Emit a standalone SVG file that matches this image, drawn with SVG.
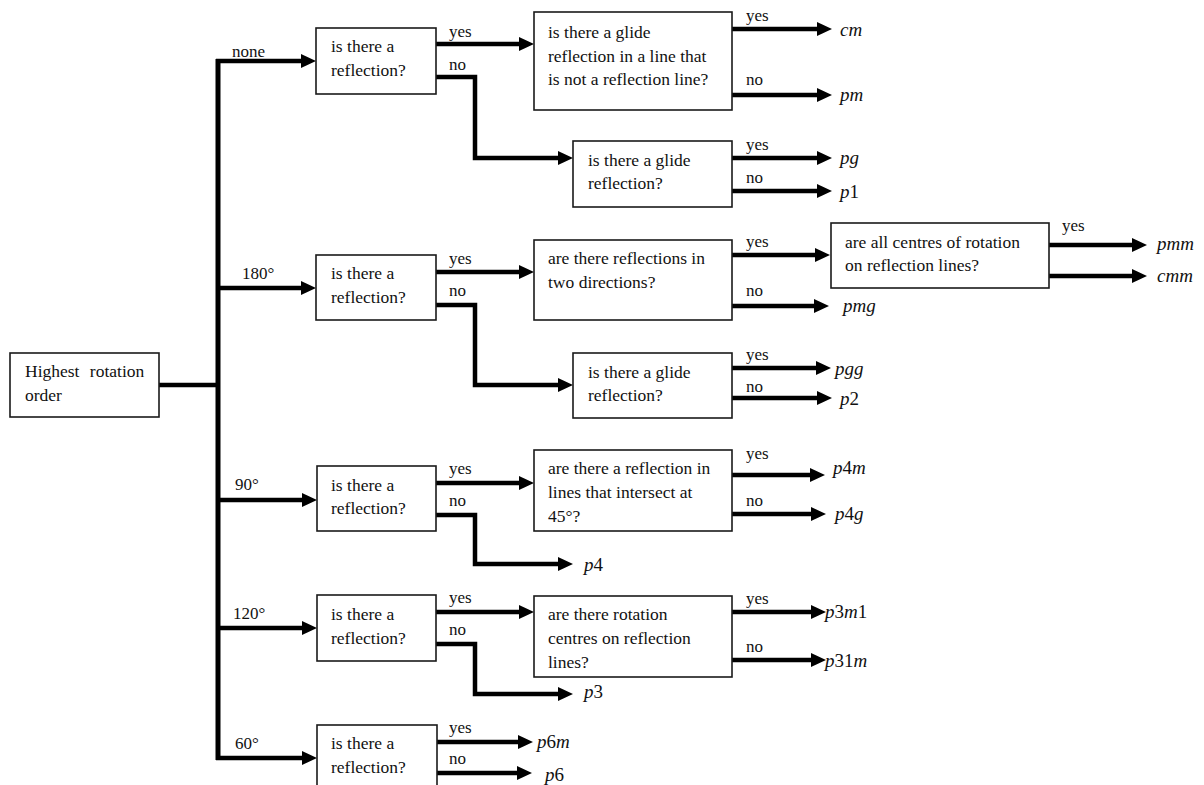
<svg xmlns="http://www.w3.org/2000/svg" width="1204" height="785" viewBox="0 0 1204 785">
<style>
.bx{fill:#fff;stroke:#1a1a1a;stroke-width:1.6}
.t{font-family:"Liberation Serif","Times New Roman",serif;font-size:17.5px;fill:#111}
.l{font-family:"Liberation Serif","Times New Roman",serif;font-size:17px;fill:#111}
.m{font-family:"Liberation Serif","Times New Roman",serif;font-size:19px;font-style:italic;fill:#111}
.m tspan.d{font-style:normal}
.c{fill:none;stroke:#000;stroke-width:4.5;stroke-linejoin:miter}
.a{marker-end:url(#ah)}
</style>
<defs>
<marker id="ah" markerUnits="userSpaceOnUse" markerWidth="16" markerHeight="16" refX="5" refY="7" orient="auto">
<path d="M0,0 L15,7 L0,14 z" fill="#000"/>
</marker>
</defs>
<g id="connectors">
<path class="c" d="M159,385 H218"/>
<path class="c" d="M218,59 V760" style="stroke-width:5"/>
<path class="c a" d="M216,61 H306"/>
<path class="c a" d="M218,288 H306"/>
<path class="c a" d="M218,500 H307"/>
<path class="c a" d="M218,628 H307"/>
<path class="c a" d="M216,758 H307"/>
<path class="c a" d="M436,44 H524"/>
<path class="c a" d="M436,77 H475 V158 H563"/>
<path class="c a" d="M732,29 H822"/>
<path class="c a" d="M732,95 H822"/>
<path class="c a" d="M732,158 H822"/>
<path class="c a" d="M732,191 H822"/>
<path class="c a" d="M436,272 H524"/>
<path class="c a" d="M436,305 H475 V385 H563"/>
<path class="c a" d="M732,255 H820"/>
<path class="c a" d="M732,306 H819"/>
<path class="c a" d="M1049,245 H1137"/>
<path class="c a" d="M1049,276 H1137"/>
<path class="c a" d="M732,368 H821"/>
<path class="c a" d="M732,398 H822"/>
<path class="c a" d="M436,483 H524"/>
<path class="c a" d="M436,515 H475 V564 H563"/>
<path class="c a" d="M732,475 H815"/>
<path class="c a" d="M732,514 H816"/>
<path class="c a" d="M436,612 H524"/>
<path class="c a" d="M436,644 H475 V694 H563"/>
<path class="c a" d="M732,612 H816"/>
<path class="c a" d="M732,660 H816"/>
<path class="c a" d="M437,742 H523"/>
<path class="c a" d="M437,773 H522"/>
</g>
<g id="labels">
<text class="l" x="232" y="57">none</text>
<text class="l" x="242" y="279">180°</text>
<text class="l" x="235" y="490">90°</text>
<text class="l" x="233" y="619">120°</text>
<text class="l" x="235" y="749">60°</text>
<text class="l" x="449" y="37">yes</text>
<text class="l" x="449" y="70">no</text>
<text class="l" x="746" y="21">yes</text>
<text class="l" x="746" y="85">no</text>
<text class="l" x="746" y="150">yes</text>
<text class="l" x="746" y="183">no</text>
<text class="l" x="449" y="264">yes</text>
<text class="l" x="449" y="296">no</text>
<text class="l" x="746" y="247">yes</text>
<text class="l" x="746" y="296">no</text>
<text class="l" x="1062" y="231">yes</text>
<text class="l" x="746" y="360">yes</text>
<text class="l" x="746" y="392">no</text>
<text class="l" x="449" y="474">yes</text>
<text class="l" x="449" y="506">no</text>
<text class="l" x="746" y="459">yes</text>
<text class="l" x="746" y="506">no</text>
<text class="l" x="449" y="603">yes</text>
<text class="l" x="449" y="635">no</text>
<text class="l" x="746" y="604">yes</text>
<text class="l" x="746" y="652">no</text>
<text class="l" x="449" y="733">yes</text>
<text class="l" x="449" y="764">no</text>
</g>
<g id="results">
<text class="m" x="840" y="36">cm</text>
<text class="m" x="840" y="101">pm</text>
<text class="m" x="840" y="164">pg</text>
<text class="m" x="840" y="198">p<tspan class="d">1</tspan></text>
<text class="m" x="1157" y="250">pmm</text>
<text class="m" x="1157" y="282">cmm</text>
<text class="m" x="843" y="312">pmg</text>
<text class="m" x="835" y="375">pgg</text>
<text class="m" x="840" y="405">p<tspan class="d">2</tspan></text>
<text class="m" x="833" y="474">p<tspan class="d">4</tspan>m</text>
<text class="m" x="835" y="520">p<tspan class="d">4</tspan>g</text>
<text class="m" x="584" y="571">p<tspan class="d">4</tspan></text>
<text class="m" x="825" y="618">p<tspan class="d">3</tspan>m<tspan class="d">1</tspan></text>
<text class="m" x="825" y="667">p<tspan class="d">31</tspan>m</text>
<text class="m" x="584" y="698">p<tspan class="d">3</tspan></text>
<text class="m" x="537" y="748">p<tspan class="d">6</tspan>m</text>
<text class="m" x="545" y="781">p<tspan class="d">6</tspan></text>
</g>
<g id="root">
<rect class="bx" x="10" y="353" width="149" height="64"/>
<text class="t" x="25" y="377" word-spacing="6">Highest rotation</text>
<text class="t" x="25" y="401">order</text>
</g>
<g id="q-none">
<rect class="bx" x="316" y="28" width="120" height="66"/>
<text class="t" x="331" y="52">is there a</text>
<text class="t" x="331" y="76">reflection?</text>
</g>
<g id="q-none-glide-line">
<rect class="bx" x="534" y="12" width="198" height="98"/>
<text class="t" x="548" y="38">is there a glide</text>
<text class="t" x="548" y="62">reflection in a line that</text>
<text class="t" x="548" y="85">is not a reflection line?</text>
</g>
<g id="q-none-glide">
<rect class="bx" x="573" y="141" width="159" height="66"/>
<text class="t" x="588" y="166">is there a glide</text>
<text class="t" x="588" y="189">reflection?</text>
</g>
<g id="q-180">
<rect class="bx" x="316" y="255" width="120" height="65"/>
<text class="t" x="331" y="279">is there a</text>
<text class="t" x="331" y="303">reflection?</text>
</g>
<g id="q-180-two-dir">
<rect class="bx" x="534" y="240" width="198" height="80"/>
<text class="t" x="548" y="264">are there reflections in</text>
<text class="t" x="548" y="288">two directions?</text>
</g>
<g id="q-180-centres">
<rect class="bx" x="831" y="223" width="218" height="65"/>
<text class="t" x="845" y="248">are all centres of rotation</text>
<text class="t" x="845" y="271">on reflection lines?</text>
</g>
<g id="q-180-glide">
<rect class="bx" x="573" y="353" width="159" height="65"/>
<text class="t" x="588" y="378">is there a glide</text>
<text class="t" x="588" y="401">reflection?</text>
</g>
<g id="q-90">
<rect class="bx" x="317" y="466" width="119" height="65"/>
<text class="t" x="331" y="491">is there a</text>
<text class="t" x="331" y="514">reflection?</text>
</g>
<g id="q-90-45">
<rect class="bx" x="534" y="450" width="198" height="81"/>
<text class="t" x="548" y="474">are there a reflection in</text>
<text class="t" x="548" y="498">lines that intersect at</text>
<text class="t" x="548" y="522">45°?</text>
</g>
<g id="q-120">
<rect class="bx" x="317" y="595" width="119" height="66"/>
<text class="t" x="331" y="620">is there a</text>
<text class="t" x="331" y="644">reflection?</text>
</g>
<g id="q-120-centres">
<rect class="bx" x="534" y="596" width="198" height="81"/>
<text class="t" x="548" y="620">are there rotation</text>
<text class="t" x="548" y="644">centres on reflection</text>
<text class="t" x="548" y="668">lines?</text>
</g>
<g id="q-60">
<rect class="bx" x="317" y="725" width="120" height="66"/>
<text class="t" x="331" y="749">is there a</text>
<text class="t" x="331" y="773">reflection?</text>
</g>
</svg>
